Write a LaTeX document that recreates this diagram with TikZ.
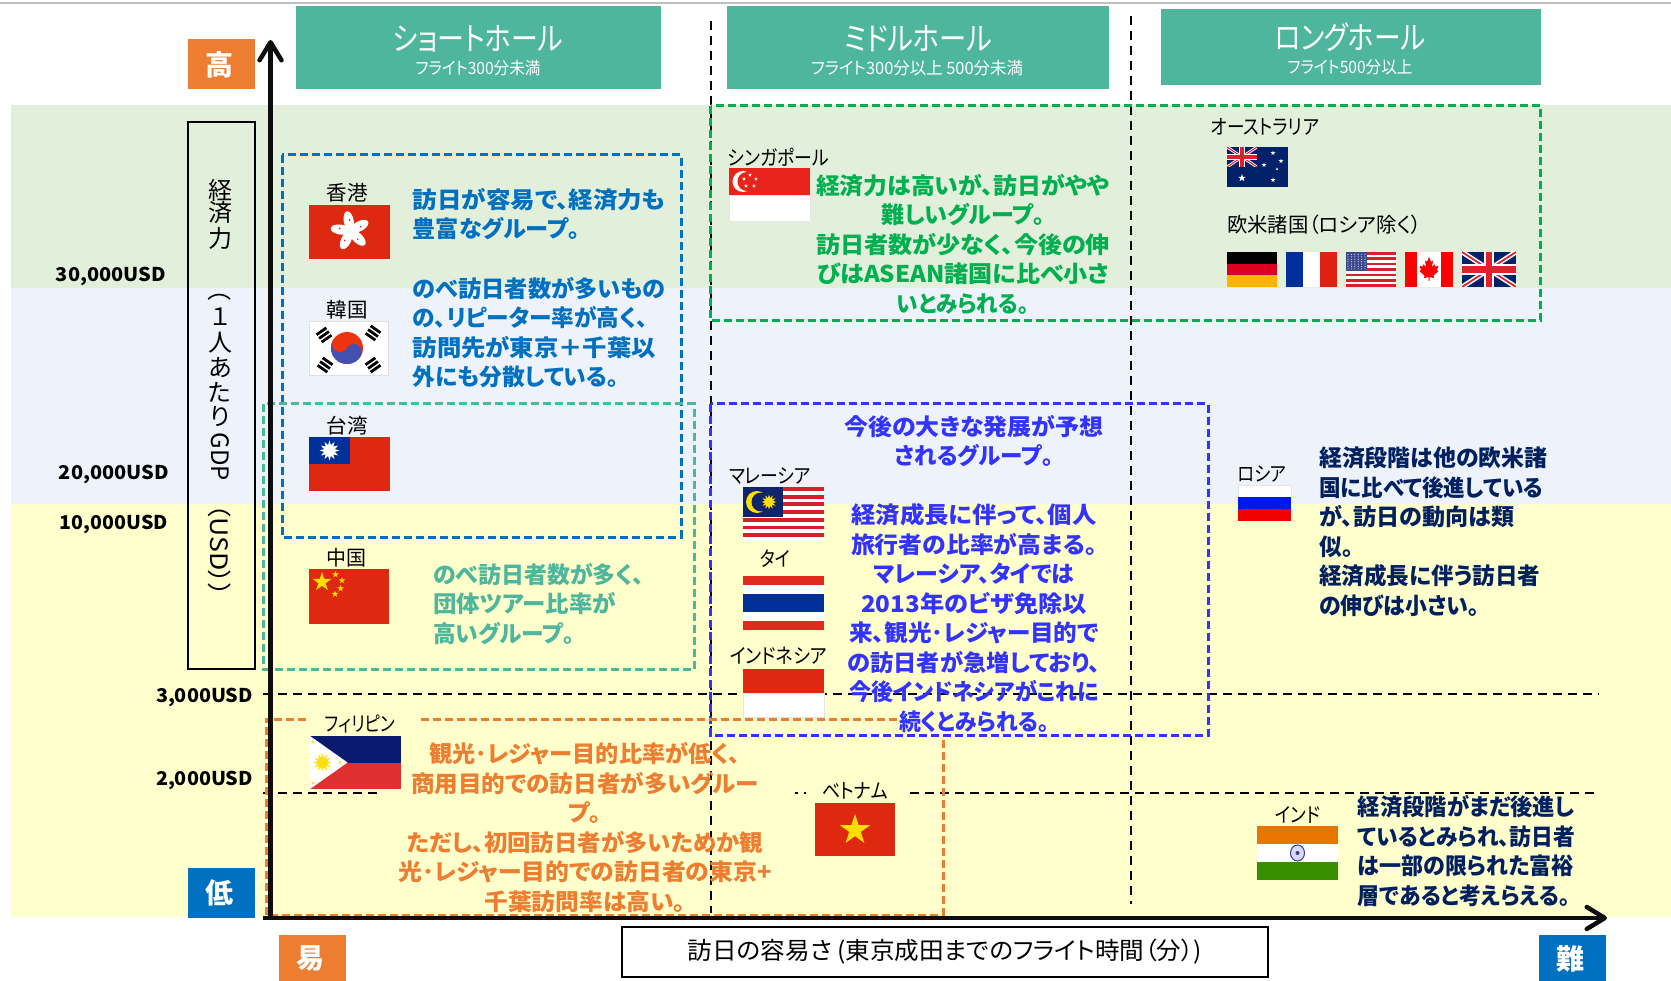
\documentclass[tikz,border=0pt]{standalone}
\usepackage{fontspec}
\usepackage{graphicx}
\usetikzlibrary{arrows.meta}
\setmainfont{Noto Sans CJK JP}[RawFeature={+palt}]
\definecolor{bgG}{HTML}{E2EFDA}
\definecolor{bgB}{HTML}{EEF3FB}
\definecolor{bgY}{HTML}{FFFFCC}
\definecolor{headT}{HTML}{4DB69C}
\definecolor{cOr}{HTML}{ED7D31}
\definecolor{cBl}{HTML}{0070C0}
\definecolor{cGr}{HTML}{00B050}
\definecolor{cVi}{HTML}{3333FF}
\definecolor{cNa}{HTML}{002060}
\definecolor{fRed}{HTML}{DE2910}
\definecolor{fBlue}{HTML}{00309A}
\definecolor{fGold}{HTML}{FFDE00}
\definecolor{ukB}{HTML}{012169}
\definecolor{ukR}{HTML}{E0202C}
\definecolor{phB}{HTML}{0A1A6E}
\definecolor{phR}{HTML}{DE3030}
\definecolor{sgR}{HTML}{E8231A}
\definecolor{deR}{HTML}{DD0020}
\definecolor{deY}{HTML}{FFB400}
\definecolor{frB}{HTML}{002F9A}
\definecolor{frR}{HTML}{E02010}
\definecolor{usR}{HTML}{D8202C}
\definecolor{usB}{HTML}{3C4A8C}
\definecolor{caR}{HTML}{FF0000}
\definecolor{myB}{HTML}{10246B}
\definecolor{thR}{HTML}{E02A1C}
\definecolor{ruB}{HTML}{0018E8}
\definecolor{ruR}{HTML}{F00000}
\definecolor{inO}{HTML}{E87500}
\definecolor{inG}{HTML}{369000}
\definecolor{inB}{HTML}{30408C}
\definecolor{krR}{HTML}{EE3311}
\definecolor{krB}{HTML}{4450B0}
\newcommand{\fitw}[2]{\resizebox{#1pt}{\height}{#2}}
% star: x y r colour
\newcommand{\fstar}[4]{\fill[#4] (#1,#2-#3)
  \foreach \a/\r in {36/0.382,72/1,108/0.382,144/1,180/0.382,216/1,252/0.382,288/1,324/0.382}
  { -- ({#1+#3*\r*sin(\a)},{#2-#3*\r*cos(\a)}) } -- cycle;}
% sun: x y r colour
\newcommand{\fsun}[4]{\fill[#4] (#1,#2-#3)
  \foreach \a in {15,30,...,345}
  { -- ({#1+#3*(0.55+0.45*mod(\a/15+1,2))*sin(\a)},{#2-#3*(0.55+0.45*mod(\a/15+1,2))*cos(\a)}) } -- cycle;}
% union jack: x1 y1 x2 y2
\newcommand{\ukjack}[4]{\begin{scope}
  \clip (#1,#2) rectangle (#3,#4);
  \fill[ukB] (#1,#2) rectangle (#3,#4);
  \draw[white,line width=0.14*(#4-#2)*1pt] (#1,#2) -- (#3,#4) (#1,#4) -- (#3,#2);
  \draw[ukR,line width=0.05*(#4-#2)*1pt] (#1,#2) -- (#3,#4) (#1,#4) -- (#3,#2);
  \draw[white,line width=0.3*(#4-#2)*1pt] ({(#1+#3)/2},#2) -- ({(#1+#3)/2},#4) (#1,{(#2+#4)/2}) -- (#3,{(#2+#4)/2});
  \draw[ukR,line width=0.18*(#4-#2)*1pt] ({(#1+#3)/2},#2) -- ({(#1+#3)/2},#4) (#1,{(#2+#4)/2}) -- (#3,{(#2+#4)/2});
\end{scope}}
% trigram: x y angle
\newcommand{\trig}[3]{\begin{scope}[rotate around={#3:(#1,#2)}]
  \foreach \k in {-4.5,0,4.5}{\fill[black] (#1-6,#2+\k-1.4) rectangle (#1+6,#2+\k+1.4);}
\end{scope}}
\tikzset{
  head/.style={fill=headT,draw=none},
  badge/.style={inner sep=0pt,text=white,font=\bfseries\fontsize{28}{30}\selectfont},
  headmain/.style={inner sep=0pt,text=white,font=\fontsize{32}{34}\selectfont},
  headsub/.style={inner sep=0pt,text=white,font=\fontsize{17}{19}\selectfont},
  usd/.style={inner sep=0pt,text=black,font=\bfseries\fontsize{19}{21}\selectfont},
  flaglabel/.style={inner sep=0pt,text=black,font=\fontsize{20.5}{22}\selectfont},
  vchar/.style={inner sep=0pt,text=black,font=\fontsize{24}{26}\selectfont},
  body/.style={inner sep=0pt,text=#1,font=\bfseries\fontsize{23}{29.5}\selectfont},
  frame/.style={draw=#1,line width=3pt,dash pattern=on 8pt off 4pt},
  guide/.style={draw=black,line width=2pt,dash pattern=on 9pt off 6pt},
  axisline/.style={draw=black!95,line width=4.5pt,-{Straight Barb[length=18pt,width=22pt,line width=4.5pt,round]}},
  thinbox/.style={draw=black,line width=1.6pt},
}
\begin{document}
\begin{tikzpicture}[x=1pt,y=-1pt]
\useasboundingbox (0,0) rectangle (1671,981);
\fill[white] (0,0) rectangle (1671,981);
\draw[black!25,line width=2pt] (0,3) -- (1671,3);
% bands
\fill[bgG] (11,105) rectangle (1671,288);
\fill[bgB] (11,288) rectangle (1671,504);
\fill[bgY] (11,504) rectangle (1671,917);
% headers
\fill[head] (296,6) rectangle (661,89);
\fill[head] (727,6) rectangle (1109,89);
\fill[head] (1161,9) rectangle (1541,85);
\node[headmain] (h1) at (478,39) {\fitw{170}{ショートホール}};
\node[headsub] (h1s) at (478,68) {\fitw{125}{フライト300分未満}};
\node[headmain] (h2) at (918,39) {\fitw{148}{ミドルホール}};
\node[headsub] (h2s) at (917,68) {\fitw{212}{フライト300分以上 500分未満}};
\node[headmain] (h3) at (1350,37) {\fitw{151}{ロングホール}};
\node[headsub] (h3s) at (1350,67) {\fitw{125}{フライト500分以上}};
% badges
\fill[cOr] (188,39) rectangle (255,89);
\fill[cBl] (188,868) rectangle (255,918);
\fill[cOr] (279,935) rectangle (346,981);
\fill[cBl] (1539,934.5) rectangle (1606,981);
\node[badge] (bHigh) at (219,65) {高};
\node[badge] (bLow) at (219,893) {低};
\node[badge] (bEasy) at (310,959) {易};
\node[badge] (bHard) at (1570,959) {難};
% guides
\coordinate (gv1a) at (710.5,21); \coordinate (gv1b) at (710.5,913);
\coordinate (gv2a) at (1131,16); \coordinate (gv2b) at (1131,904);
\coordinate (gh1a) at (263,693.7); \coordinate (gh1b) at (1599,693.7);
\coordinate (gh2a) at (263,793); \coordinate (gh2b) at (378,793);
\coordinate (gh2c) at (795,793); \coordinate (gh2d) at (806,793);
\coordinate (gh2e) at (910,793); \coordinate (gh2f) at (1599,793);
\draw[guide] (gv1a) -- (gv1b);
\draw[guide] (gv2a) -- (gv2b);
\draw[guide] (gh1a) -- (gh1b);
\draw[guide] (gh2a) -- (gh2b);
\draw[guide,dash pattern=on 3pt off 6pt] (gh2c) -- (gh2d);
\draw[guide] (gh2e) -- (gh2f);
% y label box
\draw[thinbox] (188,122) rectangle (255,669);
\node[vchar] (v1) at (220,190) {経};
\node[vchar] (v2) at (220,213) {済};
\node[vchar] (v3) at (220,238) {力};
\node[vchar,rotate=-90] (v4) at (220,295) {（};
\node[vchar] (v5) at (220,317) {１};
\node[vchar] (v6) at (220,343) {人};
\node[vchar] (v7) at (220,368) {あ};
\node[vchar] (v8) at (220,392) {た};
\node[vchar] (v9) at (220,417) {り};
\node[vchar,rotate=-90] (v10) at (220,457) {GDP};
\node[vchar,rotate=-90] (v11) at (220,550.5) {\fitw{93}{（USD））}};
% x label box
\draw[thinbox] (622,927) rectangle (1268,977);
\node[flaglabel,font=\fontsize{24}{26}\selectfont] (xlab) at (945,952) {\fitw{514}{訪日の容易さ (東京成田までのフライト時間（分）)}};
% usd
\node[usd] (u30) at (111,276) {\fitw{110}{30,000USD}};
\node[usd] (u20) at (114,474) {\fitw{110}{20,000USD}};
\node[usd] (u10) at (114,524) {\fitw{108}{10,000USD}};
\node[usd] (u3) at (204.5,697) {\fitw{97}{3,000USD}};
\node[usd] (u2) at (204.5,780) {\fitw{97}{2,000USD}};
% frames
\draw[frame=cBl] (282,155) rectangle (681,537);
\draw[frame=headT] (263.5,404) rectangle (694,669);
\draw[frame=cGr] (710.5,106) rectangle (1540,321);
\draw[frame=cVi] (710.5,404) rectangle (1208,735.5);
\draw[frame=cOr] (306,719) -- (266,719) -- (266,915) -- (943,915) -- (943,736);
\draw[frame=cOr] (421,719) -- (898,719);
% axes
\coordinate (origY) at (270.5,920); \coordinate (topY) at (270.5,40);
\coordinate (origX) at (263,918); \coordinate (endX) at (1607,918);
\draw[axisline] (origY) -- (topY);
\draw[axisline] (origX) -- (endX);
% ---------- flags ----------
% Hong Kong
\fill[fRed] (309,205) rectangle (390,259);
\foreach \a in {0,72,144,216,288}{
  \begin{scope}[rotate around={\a+10:(350.5,231)}]
    \fill[white] (350.5,221) ellipse[x radius=5pt,y radius=10pt];
    \fill[fRed] (351.5,220) circle[radius=1pt];
  \end{scope}}
% Korea
\fill[white,draw=black!12] (309,321) rectangle (388.5,375);
\begin{scope}[rotate around={-30:(347,348)}]
  \fill[krR] (347,348) circle[radius=16pt];
  \begin{scope}
    \clip (331,348) rectangle (363,364);
    \fill[krB] (347,348) circle[radius=16pt];
  \end{scope}
  \fill[krR] (339,348) circle[radius=8pt];
  \fill[krB] (355,348) circle[radius=8pt];
\end{scope}
\trig{324}{335}{35}
\trig{373}{333}{-35}
\trig{325}{365}{-35}
\trig{373}{365}{35}
% Taiwan
\fill[fRed] (309,437) rectangle (390,491);
\fill[fBlue] (309,437) rectangle (349.5,464);
\fsun{329.5}{450.5}{10}{white}
% China
\fill[fRed] (309,569) rectangle (389,624);
\fstar{322}{582}{10}{fGold}
\fstar{335.5}{574.5}{3.5}{fGold}
\fstar{342}{580.5}{3.5}{fGold}
\fstar{340.5}{588.5}{3.5}{fGold}
\fstar{335}{594}{3.5}{fGold}
% Philippines
\fill[phB] (310,736) rectangle (401,762.5);
\fill[phR] (310,762.5) rectangle (401,789);
\fill[white] (310,736) -- (347.5,762.5) -- (310,789) -- cycle;
\fsun{322.5}{762.5}{9}{fGold}
\fstar{313}{742}{2}{fGold}
\fstar{313}{783}{2}{fGold}
\fstar{340}{762.5}{2}{fGold}
% Singapore
\fill[white,draw=black!10] (729,195) rectangle (810,221);
\fill[sgR] (729,168) rectangle (810,195);
\fill[white] (743,181.5) circle[radius=10.5pt];
\fill[sgR] (747,181.5) circle[radius=9.5pt];
\foreach \p/\q in {750/175,756/179,754/186,746/186,744/179}{\fstar{\p}{\q}{2}{white}}
% Australia
\fill[ukB] (1227,147) rectangle (1288,187);
\ukjack{1227}{147}{1257}{167}
\fstar{1242}{178}{4}{white}
\fstar{1273}{153}{2.5}{white}
\fstar{1281}{161}{2.5}{white}
\fstar{1273}{180}{2.5}{white}
\fstar{1264}{165}{2.5}{white}
\fstar{1277}{169}{1.5}{white}
% Germany
\fill[black] (1227,252) rectangle (1277,263.7);
\fill[deR] (1227,263.7) rectangle (1277,275.3);
\fill[deY] (1227,275.3) rectangle (1277,287);
% France
\fill[frB] (1286,252) rectangle (1303,287);
\fill[white] (1303,252) rectangle (1320,287);
\fill[frR] (1320,252) rectangle (1337,287);
% USA
\fill[white] (1346,252) rectangle (1396,287);
\foreach \i in {0,2,...,12}{\fill[usR] (1346,252+\i*2.692) rectangle (1396,252+\i*2.692+2.692);}
\fill[usB] (1346,252) rectangle (1367,270.8);
\foreach \i in {0,...,6}{\foreach \j in {0,...,5}{\fill[white!85!blue] (1348+\j*3.4,254.5+\i*2.4) circle[radius=0.6pt];}}
% Canada
\fill[caR] (1405,252) rectangle (1453,287);
\fill[white] (1417,252) rectangle (1441,287);
\begin{scope}[shift={(1429,269)},x=10pt,y=-12pt]
\fill[caR] (0,-1)--(.2,-.6)--(.4,-.7)--(.3,-.15)--(.55,-.4)--(.62,-.2)--(.95,-.27)--(.8,.08)--(.95,.18)--(.45,.55)--(.5,.75)--(.05,.68)--(.05,1)--(-.05,1)--(-.05,.68)--(-.5,.75)--(-.45,.55)--(-.95,.18)--(-.8,.08)--(-.95,-.27)--(-.62,-.2)--(-.55,-.4)--(-.3,-.15)--(-.4,-.7)--(-.2,-.6)--cycle;
\end{scope}
% UK
\ukjack{1462}{252}{1516}{287}
% Malaysia
\fill[white] (743,487) rectangle (824,541);
\foreach \i in {0,2,...,12}{\fill[usR] (743,487+\i*3.857) rectangle (824,487+\i*3.857+3.857);}
\fill[myB] (743,487) rectangle (783,517);
\fill[fGold] (757,502) circle[radius=11pt];
\fill[myB] (761,502) circle[radius=9.5pt];
\fsun{769}{502}{7.5}{fGold}
% Thailand
\fill[thR] (743,576) rectangle (824,630);
\fill[white] (743,585) rectangle (824,621);
\fill[fBlue] (743,594) rectangle (824,612);
% Indonesia
\fill[white,draw=black!10] (743,693) rectangle (824,717);
\fill[fRed] (743,669) rectangle (824,693);
% Russia
\fill[white,draw=black!10] (1238,485) rectangle (1291,497);
\fill[ruB] (1238,497) rectangle (1291,509);
\fill[ruR] (1238,509) rectangle (1291,521);
% Vietnam
\fill[fRed] (815,803) rectangle (895,856);
\fstar{855}{830}{16}{fGold}
% India
\fill[inO] (1257,826) rectangle (1338,844);
\fill[white] (1257,844) rectangle (1338,862);
\fill[inG] (1257,862) rectangle (1338,880);
\draw[inB,line width=1pt,fill=white!85!blue] (1297.5,853) ellipse[x radius=7pt,y radius=8pt];
\fill[inB] (1297.5,853) circle[radius=2pt];
% flag labels
\node[flaglabel] (lHK) at (347,193) {\fitw{41}{香港}};
\node[flaglabel] (lKR) at (347,310) {\fitw{41}{韓国}};
\node[flaglabel] (lTW) at (347,426) {\fitw{41}{台湾}};
\node[flaglabel] (lCN) at (346,558) {\fitw{40}{中国}};
\node[flaglabel] (lPH) at (360,724) {\fitw{70}{フィリピン}};
\node[flaglabel] (lSG) at (778.5,157) {\fitw{101}{シンガポール}};
\node[flaglabel] (lAU) at (1265,127) {\fitw{108}{オーストラリア}};
\node[flaglabel] (lEU) at (1324,225) {\fitw{194}{欧米諸国（ロシア除く）}};
\node[flaglabel] (lMY) at (770,476) {\fitw{82}{マレーシア}};
\node[flaglabel] (lTH) at (775,558.5) {\fitw{30}{タイ}};
\node[flaglabel] (lID) at (778.5,656) {\fitw{97}{インドネシア}};
\node[flaglabel] (lRU) at (1262,474) {\fitw{49}{ロシア}};
\node[flaglabel] (lVN) at (855,791) {\fitw{66}{ベトナム}};
\node[flaglabel] (lIN) at (1297.5,815) {\fitw{45}{インド}};
% body texts
\node[body=cBl,align=left,anchor=west] (tA) at (412.5,214) {\fitw{253}{訪日が容易で、経済力も}\\\fitw{167}{豊富なグループ。}};
\node[body=cBl,align=left,anchor=west] (tB) at (412.5,332.5) {\fitw{253}{のべ訪日者数が多いもの}\\\fitw{235}{の、リピーター率が高く、}\\\fitw{243}{訪問先が東京＋千葉以}\\\fitw{206}{外にも分散している。}};
\node[body=headT,align=left,anchor=west] (tC) at (433,604) {\fitw{211}{のべ訪日者数が多く、}\\\fitw{183}{団体ツアー比率が}\\\fitw{141}{高いグループ。}};
\node[body=cGr,align=center] (tD) at (963,244.5) {\fitw{294}{経済力は高いが、訪日がやや}\\\fitw{163}{難しいグループ。}\\\fitw{294}{訪日者数が少なく、今後の伸}\\\fitw{292}{びはASEAN諸国に比べ小さ}\\\fitw{132}{いとみられる。}};
\node[body=cVi,align=center] (tE) at (974,574) {\fitw{259}{今後の大きな発展が予想}\\\fitw{158}{されるグループ。}\\[29.5pt]\fitw{245}{経済成長に伴って、個人}\\\fitw{246}{旅行者の比率が高まる。}\\\fitw{201}{マレーシア、タイでは}\\\fitw{226}{2013年のビザ免除以}\\\fitw{250}{来、観光･レジャー目的で}\\\fitw{253}{の訪日者が急増しており、}\\\fitw{249}{今後インドネシアがこれに}\\\fitw{150}{続くとみられる。}};
\node[body=cNa,align=left,anchor=west] (tF) at (1319,531.5) {\fitw{228}{経済段階は他の欧米諸}\\\fitw{224}{国に比べて後進している}\\\fitw{195}{が、訪日の動向は類}\\\fitw{34}{似。}\\\fitw{221}{経済成長に伴う訪日者}\\\fitw{160}{の伸びは小さい。}};
\node[body=cNa,align=left,anchor=west] (tG) at (1357.6,851) {\fitw{217}{経済段階がまだ後進し}\\\fitw{217}{ているとみられ、訪日者}\\\fitw{216}{は一部の限られた富裕}\\\fitw{212}{層であると考えらえる。}};
\node[body=cOr,align=center] (tH) at (585,827.5) {\fitw{311}{観光･レジャー目的比率が低く、}\\\fitw{348}{商用目的での訪日者が多いグルー}\\\fitw{33}{プ。}\\\fitw{356}{ただし、初回訪日者が多いためか観}\\\fitw{373}{光･レジャー目的での訪日者の東京+}\\\fitw{201}{千葉訪問率は高い。}};
\end{tikzpicture}
\end{document}
